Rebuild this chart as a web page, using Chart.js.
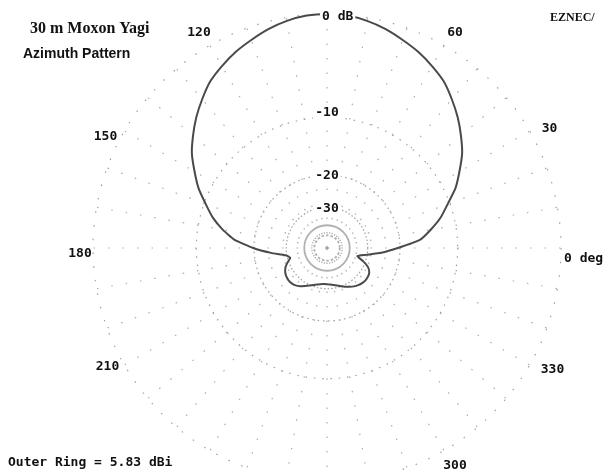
<!DOCTYPE html>
<html>
<head>
<meta charset="utf-8">
<script src="https://cdn.jsdelivr.net/npm/chart.js@4.4.1/dist/chart.umd.min.js"></script>
<style>
  html, body { margin: 0; padding: 0; background: #fff; overflow: hidden; }
  #wrap { width: 607px; height: 470px; overflow: hidden; }
</style>
</head>
<body>
<div id="wrap"><canvas id="chart" width="607" height="482"></canvas></div>
<script>
// azimuth (deg, 0 = right, counter-clockwise) and gain relative to outer ring (dB)
const azimuths = [
  0, 5, 10, 15, 20, 25, 30, 35, 40, 45, 50, 55, 60, 65, 70, 75, 80, 85,
  90, 95, 100, 105, 110, 115, 120, 125, 130, 135, 140, 145, 150, 155, 160, 165, 170, 175,
  180, 185, 190, 195, 200, 205, 210, 215, 220, 225, 230, 235, 240, 245, 250, 255, 260, 265,
  270, 275, 280, 285, 290, 295, 300, 305, 310, 315, 320, 325, 330, 335, 340, 345, 350, 355
];
const gainDb = [
  -20.5, -15.8, -13.7, -11.8, -10.3, -8.6, -7.3, -6.0, -5.0, -4.05, -3.2, -2.4, -1.85, -1.35, -0.95, -0.55, -0.25, -0.05,
  0, -0.05, -0.25, -0.55, -0.95, -1.35, -1.85, -2.4, -3.2, -4.05, -5.0, -6.0, -7.3, -8.6, -10.2, -11.7, -13.6, -15.9,
  -19.8, -24.5, -29.5, -31.2, -29.5, -28.0, -27.1, -26.6, -26.4, -26.5, -26.9, -27.7, -28.7, -29.7, -30.6, -31.3, -31.8, -32.0,
  -32.0, -31.8, -31.4, -30.8, -30.0, -29.2, -28.4, -27.6, -27.0, -26.6, -26.4, -26.5, -26.9, -28.2, -31.0, -34.5, -30.5, -25.0
];
const ringDb = [-50, -40, -30, -20, -10, 0];
const ringLabels = ['', '', '-30', '-20', '-10', '0 dB'];
const angleLabelAz = [0, 30, 60, 120, 150, 180, 210, 300, 330];
const angleLabelText = ['0 deg', '30', '60', '120', '150', '180', '210', '300', '330'];
const titleText = '30 m Moxon Yagi';
const subtitleText = 'Azimuth Pattern';
const brandText = 'EZNEC/';
const outerRingText = 'Outer Ring = 5.83 dBi';

// ARRL log scale: radius shrinks by 0.89 every 2 dB
const arrl = db => Math.pow(0.89, -db / 2);

// radar goes clockwise from the top, so walk azimuth downward from 90
const order = azimuths.map((_, i) => (90 - 5 * i + 360) % 360);
const radarData = order.map(az => arrl(gainDb[azimuths.indexOf(az)]));
const indexOfAz = az => order.indexOf(az);

const mono = 'bold 13px "DejaVu Sans Mono", monospace';

// small nudges so the labels sit like EZNEC's
const labelNudge = { 0: [0, 11], 30: [6, 6], 60: [3, 1], 120: [-3, 1], 150: [-5, 14], 180: [3, 6], 210: [-3, -6], 300: [3, 1], 330: [9, -3] };
const ringNudge = { '-30': 1, '-20': 1, '-10': -5 };

function textBox(ctx, text, x, y, align) {
  const w = ctx.measureText(text).width;
  const left = align === 'left' ? x : x - w / 2;
  ctx.fillStyle = '#fff';
  ctx.fillRect(left - 2, y - 7, w + 4, 14);
  ctx.fillStyle = '#111';
  ctx.textAlign = align;
  ctx.fillText(text, x, y);
}

const eznecText = {
  id: 'eznecText',
  afterDraw(chart) {
    const { ctx } = chart;
    const r = chart.scales.r;
    ctx.save();
    ctx.textBaseline = 'middle';
    ctx.font = mono;

    ringDb.forEach((db, i) => {
      if (!ringLabels[i]) return;
      const p = r.getPointPositionForValue(0, arrl(db));
      if (db === 0) textBox(ctx, ringLabels[i], p.x - 5, p.y + 3, 'left');
      else textBox(ctx, ringLabels[i], p.x, p.y + ringNudge[ringLabels[i]], 'center');
    });

    angleLabelAz.forEach((az, i) => {
      const idx = indexOfAz(az);
      const n = labelNudge[az];
      ctx.fillStyle = '#111';
      if (az === 0) {
        const p = r.getPointPosition(idx, r.drawingArea + 3);
        ctx.textAlign = 'left';
        ctx.fillText(angleLabelText[i], p.x + n[0], p.y + n[1]);
        return;
      }
      const p = r.getPointPosition(idx, r.drawingArea + 16);
      ctx.textAlign = 'center';
      ctx.fillText(angleLabelText[i], p.x + n[0], p.y + n[1]);
    });

    ctx.textAlign = 'left';
    ctx.fillStyle = '#111';
    ctx.font = 'bold 16px "Liberation Serif", serif';
    ctx.fillText(titleText, 30, 29);
    ctx.font = 'bold 14px "Liberation Sans", Arial, sans-serif';
    ctx.fillText(subtitleText, 23, 54);
    ctx.font = 'bold 12px "Liberation Serif", serif';
    ctx.fillText(brandText, 550, 18);
    ctx.font = mono;
    ctx.fillText(outerRingText, 8, 463);
    ctx.restore();
  }
};

new Chart(document.getElementById('chart'), {
  type: 'radar',
  data: {
    labels: order.map(String),
    datasets: [{
      data: radarData,
      borderColor: '#4a4a4a',
      borderWidth: 2,
      pointRadius: 0,
      fill: false,
      tension: 0.15,
    }],
  },
  options: {
    responsive: false,
    animation: false,
    layout: { padding: { left: 93, right: 46, top: 14, bottom: 0 } },
    plugins: {
      legend: { display: false },
      tooltip: { enabled: false },
    },
    scales: {
      r: {
        min: 0,
        max: 1,
        startAngle: 0,
        afterBuildTicks: (scale) => {
          scale.ticks = [{ value: 0 }].concat(ringDb.map(db => ({ value: arrl(db) })));
        },
        ticks: { display: false },
        pointLabels: { display: false },
        grid: {
          circular: true,
          color: (c) => (c.tick && c.tick.value < 0.12 ? '#b0b0b0' : '#a0a0a0'),
          lineWidth: (c) => (c.tick && c.tick.value < 0.12 ? 1.8 : 1.2),
        },
        border: {
          dash: (c) => {
            const v = c.tick ? c.tick.value : 0.5;
            if (v > 0.08 && v < 0.12) return [];
            if (v <= 0.08) return [2.5, 2];
            return [1.5, v * 234 * Math.PI / 60];
          },
        },
        angleLines: {
          color: (c) => ((90 - 5 * c.index + 360) % 360 % 10 === 0 ? '#acacac' : 'transparent'),
          lineWidth: 1.2,
          borderDash: [1.5, 13],
        },
      },
    },
  },
  plugins: [eznecText],
});
</script>
</body>
</html>
